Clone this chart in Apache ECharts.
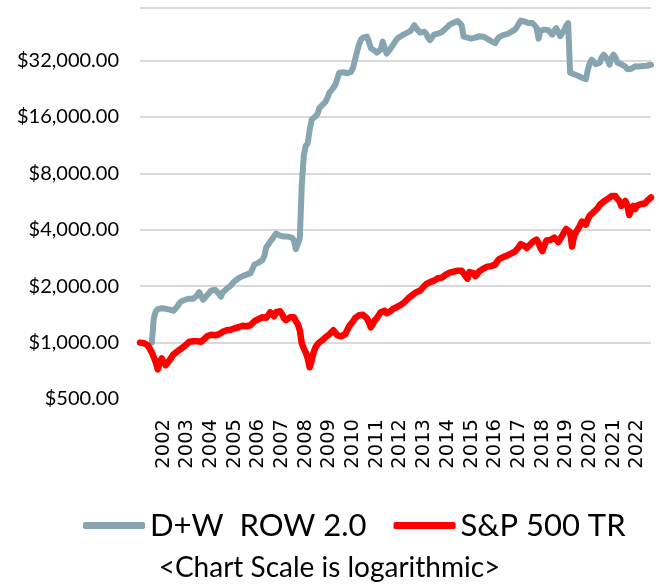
<!DOCTYPE html>
<html><head><meta charset="utf-8">
<script src="https://cdn.jsdelivr.net/npm/echarts@6/dist/echarts.min.js"></script>
<style>html,body{margin:0;padding:0;background:#fff}#c{width:659px;height:586px}</style>
</head><body><div id="c"></div>
<script>
// Monthly categories, Dec 2001 .. Jul 2023
const firstYear = 2001, firstMonth = 12, monthCount = 260;
const months = [];
for (let i = 0; i < monthCount; i++) {
  const k = firstMonth - 1 + i;
  months.push((firstYear + Math.floor(k / 12)) + '-' + String(k % 12 + 1).padStart(2, '0'));
}
const yLabelValues = [500, 1000, 2000, 4000, 8000, 16000, 32000];
const yGridValues = [1000, 2000, 4000, 8000, 16000, 32000, 61000];
const seriesNames = ['D+W  ROW 2.0', 'S&P 500 TR'];

const dwRow = [
null,null,null,null,null,null,1000,1349,1470,1507,
1525,1525,1525,1516,1516,1498,1488,1479,1507,1563,
1622,1663,1683,1694,1704,1715,1704,1715,1704,1790,
1858,1768,1694,1736,1790,1835,1893,1939,1915,1869,
1824,1757,1858,1904,1939,1975,2012,2075,2127,2167,
2207,2234,2262,2290,2304,2319,2347,2466,2606,2655,
2671,2704,2755,2894,3233,3333,3459,3567,3702,3817,
3794,3724,3702,3679,3679,3679,3656,3634,3523,3154,
3354,3612,6935,9913,11212,11562,13651,15440,15823,16119,
16627,17897,18343,18457,19267,20240,21530,22203,22899,23760,
25571,27533,27873,27703,27533,27364,27196,27873,29287,32315,
35663,38870,41337,42368,43157,42892,40333,37237,36781,36107,
35229,34585,36555,40333,37468,34799,35229,37008,38395,39839,
41337,42368,42892,43693,44234,44783,45339,45900,47336,49424,
48519,46184,45059,45339,45619,44508,42368,41086,42108,43963,
44783,44508,44234,45339,46470,47626,48519,49730,50344,50969,
51601,51920,51283,49424,42892,42368,42368,42108,41849,42108,
42368,42892,43157,43424,42892,42368,41849,41337,40578,40080,
39591,41337,42630,43157,43693,43963,44234,44783,45339,45900,
46755,48221,50344,52242,52562,51601,50656,50656,50656,50656,
50656,47925,41849,46184,47045,46755,46470,46470,45059,43963,
46184,47626,45059,43157,44783,46470,49120,50656,27533,27196,
27030,26863,26534,26209,25888,25571,25414,28571,31141,32315,
31528,30572,30385,31141,33121,34371,35012,32315,30385,33121,
34371,33121,31141,30761,30572,30198,29646,28750,28398,28929,
29466,29832,29900,29750,29850,29900,29800,30015,30198,30385
];

const sp500 = [
1000,995,992,988,967,944,887,835,785,720,
785,824,785,756,738,804,835,866,887,898,
910,932,944,967,991,1010,1029,1016,1004,1016,
1022,1010,1022,1054,1081,1094,1101,1108,1094,1087,
1108,1135,1142,1149,1164,1171,1171,1185,1193,1200,
1207,1222,1230,1215,1222,1207,1237,1268,1300,1316,
1332,1349,1365,1374,1357,1399,1452,1417,1382,1452,
1488,1470,1417,1349,1316,1340,1365,1382,1365,1300,
1254,1164,991,932,887,824,738,804,887,944,
979,1004,1016,1041,1067,1081,1108,1121,1164,1149,
1094,1081,1081,1094,1108,1164,1222,1245,1300,1349,
1374,1399,1417,1408,1382,1349,1284,1207,1254,1316,
1349,1399,1452,1488,1479,1434,1426,1470,1507,1535,
1544,1563,1583,1602,1642,1683,1725,1747,1790,1812,
1858,1881,1893,1927,2000,2050,2075,2101,2114,2140,
2180,2207,2234,2221,2262,2304,2333,2362,2319,2391,
2420,2420,2405,2420,2377,2262,2194,2377,2420,2347,
2262,2290,2405,2435,2481,2511,2543,2574,2558,2543,
2606,2704,2789,2823,2858,2876,2911,2948,2984,3021,
3058,3115,3233,3354,3375,3273,3193,3273,3354,3438,
3523,3545,3396,3193,3077,3313,3502,3545,3523,3589,
3634,3567,3438,3567,3724,3888,4035,4060,3888,3253,
3702,3888,4035,4212,4425,4398,4264,4563,4764,4853,
4974,5098,5225,5422,5523,5661,5731,5838,5946,6057,
6132,6057,5838,5696,5356,5422,5696,5389,4793,5161,
5356,5161,5389,5422,5489,5422,5523,5696,5802,5946
];

function money(v) {
  return '$' + String(Math.round(v)).replace(/\B(?=(\d{3})+(?!\d))/g, ',') + '.00';
}

const chart = echarts.init(document.getElementById('c'), null, {renderer: 'canvas'});
chart.setOption({
  animation: false,
  backgroundColor: '#ffffff',
  grid: {left: 140, right: 8, top: 8, bottom: 187, containLabel: false, outerBoundsMode: 'none'},
  title: {
    text: '<Chart Scale is logarithmic>', left: 'center', top: 549,
    textStyle: {fontFamily: 'Lato', fontSize: 28, fontWeight: 'normal', color: '#000'}
  },
  legend: {
    left: 78, top: 505, itemWidth: 62, itemHeight: 7, itemGap: 27, icon: 'roundRect',
    textStyle: {fontFamily: 'Lato', fontSize: 31, color: '#000'},
    data: seriesNames
  },
  xAxis: {
    type: 'category', data: months, boundaryGap: false,
    axisLine: {show: false}, axisTick: {show: false}, splitLine: {show: false},
    axisLabel: {
      rotate: 90, margin: 20,
      interval: (i, v) => i > 0 && v.endsWith('-12'),
      formatter: v => v.slice(0, 4),
      fontFamily: 'DejaVu Sans', fontSize: 19.5, color: '#000'
    }
  },
  yAxis: {
    type: 'log', logBase: 2, min: 500, max: 61000,
    axisLine: {show: false},
    axisTick: {show: false, customValues: yGridValues},
    axisLabel: {customValues: yLabelValues, formatter: money, margin: 21,
      fontFamily: 'Lato', fontSize: 20, color: '#000'},
    splitLine: {show: true, lineStyle: {color: '#d9d9d9', width: 2}}
  },
  series: [
    {name: seriesNames[0], type: 'line', data: dwRow, symbol: 'none', silent: true,
     lineStyle: {color: '#87a4b1', width: 6, cap: 'round', join: 'round'},
     itemStyle: {color: '#87a4b1'}},
    {name: seriesNames[1], type: 'line', data: sp500, symbol: 'none', silent: true,
     lineStyle: {color: '#ff0000', width: 6.5, cap: 'round', join: 'round'},
     itemStyle: {color: '#ff0000'}}
  ]
});
</script>
</body></html>
